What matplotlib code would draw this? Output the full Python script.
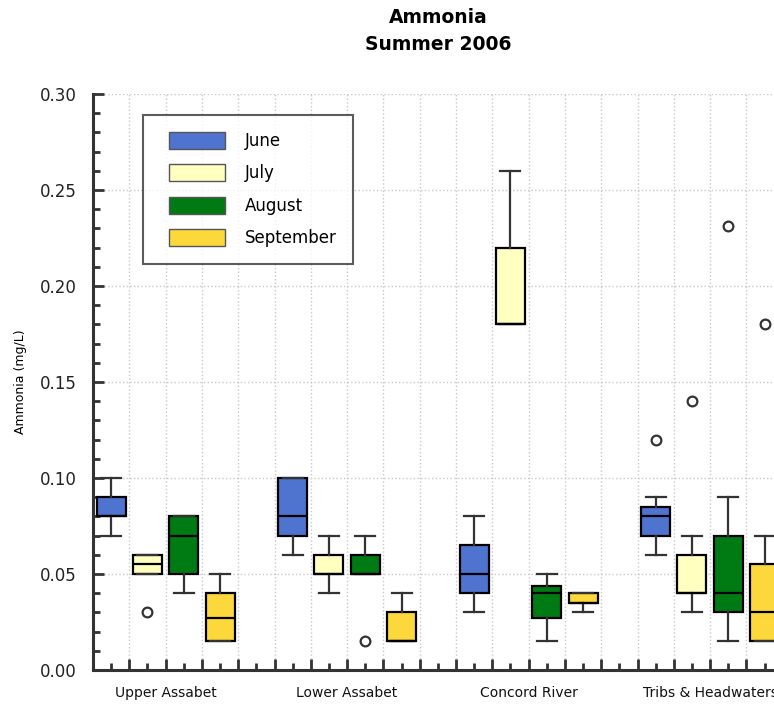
import matplotlib
matplotlib.use("Agg")
import matplotlib.pyplot as plt
from matplotlib.patches import Patch, Rectangle
from matplotlib.legend_handler import HandlerPatch
from matplotlib.ticker import MultipleLocator

sites = ["Upper Assabet", "Lower Assabet", "Concord River", "Tribs & Headwaters"]
months = ["June", "July", "August", "September"]
colors = ["#4f74d0", "#ffffc0", "#007a12", "#fdd83c"]

# per month, one entry per site: lower whisker, q1, median, q3, upper whisker
june_lo = [0.07, 0.06, 0.03, 0.06]
june_q1 = [0.08, 0.07, 0.04, 0.07]
june_med = [0.08, 0.08, 0.05, 0.08]
june_q3 = [0.09, 0.10, 0.065, 0.085]
june_hi = [0.10, 0.10, 0.08, 0.09]
june_out = [[], [], [], [0.12]]

july_lo = [0.05, 0.04, 0.18, 0.03]
july_q1 = [0.05, 0.05, 0.18, 0.04]
july_med = [0.055, 0.05, 0.18, 0.04]
july_q3 = [0.06, 0.06, 0.22, 0.06]
july_hi = [0.06, 0.07, 0.26, 0.07]
july_out = [[0.03], [], [], [0.14]]

aug_lo = [0.04, 0.05, 0.015, 0.015]
aug_q1 = [0.05, 0.05, 0.027, 0.03]
aug_med = [0.07, 0.05, 0.04, 0.04]
aug_q3 = [0.08, 0.06, 0.044, 0.07]
aug_hi = [0.08, 0.07, 0.05, 0.09]
aug_out = [[], [0.015], [], [0.231]]

sep_lo = [0.015, 0.015, 0.03, 0.015]
sep_q1 = [0.015, 0.015, 0.035, 0.015]
sep_med = [0.027, 0.015, 0.035, 0.03]
sep_q3 = [0.04, 0.03, 0.04, 0.055]
sep_hi = [0.05, 0.04, 0.04, 0.07]
sep_out = [[], [], [], [0.18]]

month_data = [
    (june_lo, june_q1, june_med, june_q3, june_hi, june_out),
    (july_lo, july_q1, july_med, july_q3, july_hi, july_out),
    (aug_lo, aug_q1, aug_med, aug_q3, aug_hi, aug_out),
    (sep_lo, sep_q1, sep_med, sep_q3, sep_hi, sep_out),
]

fig = plt.figure(figsize=(7.74, 7.05), dpi=100)
ax = fig.add_axes([93 / 774, 1 - 670 / 705, 19 * 36.3 / 774, (670 - 94) / 705])

for m, (lo, q1, med, q3, hi, out) in enumerate(month_data):
    stats = []
    for s in range(len(sites)):
        stats.append(dict(whislo=lo[s], q1=q1[s], med=med[s], q3=q3[s],
                          whishi=hi[s], fliers=out[s]))
    pos = [5 * s + m + 0.5 for s in range(len(sites))]
    ax.bxp(stats, positions=pos, widths=0.8, patch_artist=True,
           showfliers=True, capwidths=0.55,
           boxprops=dict(facecolor=colors[m], edgecolor="black", linewidth=1.6),
           medianprops=dict(color="black", linewidth=1.6),
           whiskerprops=dict(color="#333333", linewidth=1.6),
           capprops=dict(color="#333333", linewidth=1.6),
           flierprops=dict(marker="o", markerfacecolor="white",
                           markeredgecolor="#333333", markersize=7,
                           markeredgewidth=1.6))

ax.set_xlim(0, 19)
ax.set_ylim(0, 0.30)
ax.xaxis.set_major_locator(MultipleLocator(1))
ax.xaxis.set_minor_locator(MultipleLocator(0.5))
ax.yaxis.set_major_locator(MultipleLocator(0.05))
ax.yaxis.set_minor_locator(MultipleLocator(0.01))
ax.set_xticklabels([])
ax.set_yticks([0, 0.05, 0.10, 0.15, 0.20, 0.25, 0.30])
ax.set_yticklabels(["0.00", "0.05", "0.10", "0.15", "0.20", "0.25", "0.30"])
ax.tick_params(which="major", direction="in", length=8, width=2, color="#333333",
               labelsize=12, labelcolor="#222222", pad=12)
ax.tick_params(which="minor", direction="in", length=5, width=2, color="#333333")

for side in ["top", "right"]:
    ax.spines[side].set_visible(False)
for side in ["left", "bottom"]:
    ax.spines[side].set_linewidth(2.2)
    ax.spines[side].set_color("#333333")

ax.grid(True, which="major", color="#c8c8c8", linestyle=":", linewidth=1)
ax.set_axisbelow(True)

for s, name in enumerate(sites):
    ax.text(5 * s + 2, -0.012, name, ha="center", va="center", fontsize=10,
            color="#111111", clip_on=False)

ax.set_ylabel("Ammonia (mg/L)", fontsize=9, labelpad=9)


def shifted_rect(legend, orig_handle, xdescent, ydescent, width, height, fontsize):
    # leave some empty room on the left of each swatch
    off = 7
    return Rectangle((-xdescent + off, -ydescent), width - off, height)


handles = [Patch(facecolor=c, edgecolor="#555555", linewidth=1) for c in colors]
fig.legend(handles, months, loc="upper left",
           bbox_to_anchor=(143 / 774, 1 - 115 / 705), bbox_transform=fig.transFigure,
           fontsize=12, frameon=True, fancybox=False, edgecolor="#333333",
           handlelength=3.9, handleheight=1.2, handletextpad=1.2,
           labelspacing=0.86, borderpad=1.0, borderaxespad=0,
           handler_map={Patch: HandlerPatch(patch_func=shifted_rect)})
leg = fig.legends[0]
leg.get_frame().set_linewidth(1.5)

fig.text(438 / 774, 1 - 31 / 705, "Ammonia\nSummer 2006", ha="center", va="center",
         fontsize=13.5, fontweight="bold", linespacing=1.5)

fig.savefig("out.png", dpi=100)
